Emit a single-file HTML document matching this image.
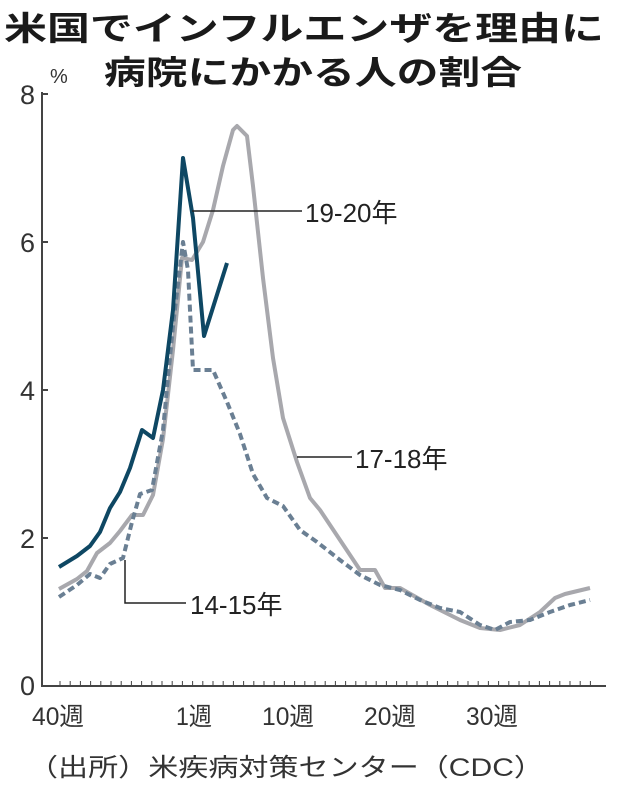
<!DOCTYPE html>
<html><head><meta charset="utf-8"><style>
body{margin:0;background:#fff;}
svg text{font-family:"Liberation Sans","Noto Sans CJK JP",sans-serif;}
</style></head><body>
<svg width="630" height="796" viewBox="0 0 630 796" xmlns="http://www.w3.org/2000/svg">
<text x="4" y="40" font-size="33" font-weight="bold" fill="#1a1a1a" textLength="600" lengthAdjust="spacingAndGlyphs">米国でインフルエンザを理由に</text>
<text x="104" y="84" font-size="33" font-weight="bold" fill="#1a1a1a" textLength="418" lengthAdjust="spacingAndGlyphs">病院にかかる人の割合</text>
<text x="50" y="83" font-size="20" fill="#333">%</text>
<g font-size="27" fill="#333" text-anchor="end">
<text x="35" y="104">8</text><text x="35" y="252">6</text><text x="35" y="400">4</text><text x="35" y="548">2</text><text x="35" y="695">0</text>
</g>
<g stroke="#444" stroke-width="2" fill="none">
<line x1="42" y1="92" x2="42" y2="686"/>
<line x1="41" y1="686" x2="606" y2="686"/>
<line x1="42" y1="94" x2="48" y2="94"/><line x1="42" y1="242" x2="48" y2="242"/><line x1="42" y1="390" x2="48" y2="390"/><line x1="42" y1="538" x2="48" y2="538"/>
</g>
<g stroke="#444" stroke-width="1">
<path d="M60 686v-5M70.2 686v-5M80.4 686v-5M90.6 686v-5M100.8 686v-5M111 686v-5M121.2 686v-5M131.4 686v-5M141.6 686v-5M151.8 686v-5M162 686v-5M172.2 686v-5M182.4 686v-5M192.6 686v-5M202.8 686v-5M213 686v-5M223.2 686v-5M233.4 686v-5M243.6 686v-5M253.8 686v-5M264 686v-5M274.2 686v-5M284.4 686v-5M294.6 686v-5M304.8 686v-5M315 686v-5M325.2 686v-5M335.4 686v-5M345.6 686v-5M355.8 686v-5M366 686v-5M376.2 686v-5M386.4 686v-5M396.6 686v-5M406.8 686v-5M417 686v-5M427.2 686v-5M437.4 686v-5M447.6 686v-5M457.8 686v-5M468 686v-5M478.2 686v-5M488.4 686v-5M498.6 686v-5M508.8 686v-5M519 686v-5M529.2 686v-5M539.4 686v-5M549.6 686v-5M559.8 686v-5M570 686v-5M580.2 686v-5M590.4 686v-5"/>
</g>
<g font-size="25" fill="#333">
<text x="32" y="725" textLength="52" lengthAdjust="spacingAndGlyphs">40週</text>
<text x="176" y="725" textLength="36" lengthAdjust="spacingAndGlyphs">1週</text>
<text x="262" y="725" textLength="52" lengthAdjust="spacingAndGlyphs">10週</text>
<text x="364" y="725" textLength="52" lengthAdjust="spacingAndGlyphs">20週</text>
<text x="466" y="725" textLength="52" lengthAdjust="spacingAndGlyphs">30週</text>
</g>
<text x="28" y="776" font-size="25" fill="#333" textLength="516" lengthAdjust="spacingAndGlyphs">（出所）米疾病対策センター（CDC）</text>
<polyline fill="none" stroke="#a8a8ad" stroke-width="4" stroke-linejoin="round" points="59,589 77,579 87,571 97,553 110,543 120,531 132,515 143,515 153,495 163,439 173,350 182,258 192,260 203,242 213,210 223,166 233,130 237,126 247,136 253,186 263,278 273,358 283,418 297,462 310,498 320,510 340,540 360,570 375,570 385,588 400,588 430,605 460,620 480,628 500,630 520,625 540,612 555,598 565,594 590,588"/>
<polyline fill="none" stroke="#6a7f93" stroke-width="4" stroke-dasharray="7,4" stroke-linejoin="round" points="59,597 77,585 90,574 100,578 110,564 123,558 132,522 140,494 152,490 163,430 173,326 183,242 188,270 193,370 213,370 227,402 240,434 253,474 267,498 283,506 300,530 317,542 340,560 360,575 380,585 400,590 420,600 440,608 460,612 480,625 495,630 510,622 530,620 550,612 570,605 590,600"/>
<polyline fill="none" stroke="#0e4763" stroke-width="4" stroke-linejoin="round" points="59,567 77,556 90,546 100,532 110,508 120,492 130,468 142,430 153,438 163,390 173,310 183,158 193,218 204,336 227,263"/>
<g stroke="#222" stroke-width="1.5" fill="none">
<line x1="192" y1="211" x2="302" y2="211"/>
<line x1="297" y1="457" x2="352" y2="457"/>
<polyline points="125,560 125,603 186,603"/>
</g>
<g font-size="26" fill="#222">
<text x="305" y="222">19-20年</text>
<text x="355" y="468">17-18年</text>
<text x="190" y="614">14-15年</text>
</g>
</svg>
</body></html>
